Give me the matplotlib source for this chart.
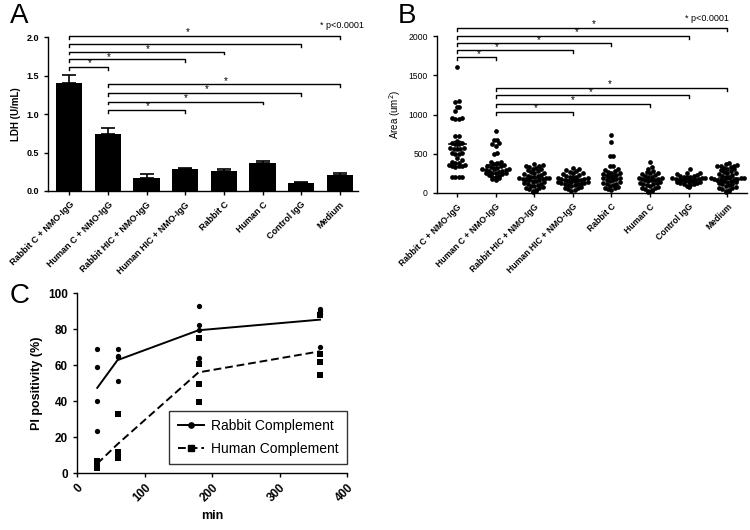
import numpy as np
import matplotlib
matplotlib.use("Agg")
import matplotlib.pyplot as plt

plt.rcParams.update({"font.family": ["Liberation Sans", "DejaVu Sans"],
                     "axes.linewidth": 1.0, "xtick.major.width": 1.0, "ytick.major.width": 1.0,
                     "xtick.major.size": 3, "ytick.major.size": 3})

groups = ["Rabbit C + NMO-IgG", "Human C + NMO-IgG", "Rabbit HIC + NMO-IgG", "Human HIC + NMO-IgG",
          "Rabbit C", "Human C", "Control IgG", "Medium"]

# A: LDH mean / SEM
ldh_mean = [1.40, 0.74, 0.17, 0.28, 0.26, 0.37, 0.10, 0.21]
ldh_sem = [0.11, 0.08, 0.05, 0.02, 0.03, 0.02, 0.02, 0.03]
a_brackets = [(0, 7, 2.01), (0, 6, 1.91), (0, 4, 1.81), (0, 3, 1.71), (0, 1, 1.61),
              (1, 7, 1.39), (1, 6, 1.27), (1, 5, 1.16), (1, 3, 1.05)]
a_stars = [(3.07, 2.06), (2.04, 1.84), (1.03, 1.74), (0.52, 1.66),
           (4.05, 1.43), (3.56, 1.32), (3.02, 1.21), (2.04, 1.10)]

# B: area per cell
area = [
    [1605, 1175, 1165, 1100, 1090, 1040, 950, 950, 945, 945, 726, 726, 660, 640, 635, 630,
     625, 575, 570, 565, 560, 555, 510, 505, 500, 495, 440, 420, 400, 380, 360, 345, 340,
     335, 340, 360, 380, 210, 208, 205, 205],
    [784, 680, 670, 640, 630, 595, 505, 500, 400, 390, 380, 370, 360, 350, 340, 330, 320,
     310, 300, 300, 290, 290, 280, 280, 270, 260, 260, 250, 250, 240, 230, 220, 210, 200,
     190, 180, 170],
    [365, 360, 350, 345, 330, 320, 310, 300, 290, 280, 270, 260, 250, 240, 230, 220, 215,
     210, 200, 195, 190, 185, 180, 175, 170, 165, 160, 150, 145, 140, 130, 120, 110, 100,
     95, 90, 80, 70, 60, 50, 40, 30, 20, 10],
    [320, 300, 290, 280, 270, 260, 250, 240, 230, 220, 210, 200, 200, 190, 185, 180, 175,
     170, 165, 160, 155, 150, 145, 140, 135, 130, 125, 120, 115, 110, 105, 100, 90, 80, 70,
     60, 50, 40, 30],
    [745, 650, 470, 470, 350, 345, 300, 290, 280, 270, 260, 250, 240, 230, 220, 210, 200,
     195, 190, 180, 170, 160, 150, 140, 130, 120, 110, 100, 90, 80, 70, 60, 50, 40],
    [390, 330, 310, 280, 270, 260, 250, 240, 230, 220, 210, 200, 195, 190, 180, 175, 170,
     165, 160, 150, 140, 130, 125, 120, 110, 100, 90, 80, 70, 60, 50, 40, 30, 20, 10],
    [300, 260, 250, 240, 230, 220, 215, 210, 205, 200, 195, 190, 185, 180, 175, 170, 165,
     160, 155, 150, 145, 140, 135, 130, 125, 120, 110, 100, 90, 80],
    [380, 370, 360, 350, 345, 340, 330, 320, 310, 300, 290, 280, 270, 260, 250, 240, 230,
     220, 210, 200, 195, 190, 185, 180, 175, 170, 165, 160, 155, 150, 145, 140, 130, 120,
     110, 100, 90, 80, 70, 60, 50, 40, 30, 20, 10],
]
b_brackets = [(0, 7, 2106), (0, 6, 2004), (0, 4, 1911), (0, 3, 1818), (0, 1, 1729),
              (1, 7, 1343), (1, 6, 1250), (1, 5, 1135), (1, 3, 1030)]
b_stars = [(3.54, 2148), (3.09, 2046), (2.11, 1953), (1.04, 1860), (0.56, 1767),
           (3.96, 1385), (3.47, 1288), (2.99, 1178), (2.03, 1076)]

# C: PI positivity over time
minutes = [30, 60, 180, 360]
rabbit_pts = [[68.7, 59.0, 40.2, 23.3], [68.7, 65.2, 64.5, 51.3],
              [93.0, 82.2, 79.4, 63.7, 61.9], [91.0, 89.8, 88.5, 70.0]]
human_pts = [[6.5, 4.8, 3.0], [32.8, 11.8, 10.0, 8.5],
             [74.8, 60.5, 49.3, 39.6], [88.0, 66.0, 61.8, 54.4]]
rabbit_line = [47.3, 62.7, 79.3, 85.2]
human_line = [5.2, 16.0, 55.9, 67.6]

W, H = 750, 530
fig = plt.figure(figsize=(7.5, 5.3), dpi=100)
axA = fig.add_axes([48 / W, 1 - 191 / H, 310 / W, 154 / H])
axB = fig.add_axes([437 / W, 1 - 193 / H, 310 / W, 157 / H])
axC = fig.add_axes([77 / W, 1 - 473 / H, 270 / W, 180 / H])

def prism(ax):
    for s in ["top", "right"]:
        ax.spines[s].set_visible(False)
    ax.tick_params(direction="out")

def brackets(ax, lst, stars, drop, star_fs):
    for i, j, y in lst:
        ax.plot([i, i, j, j], [y - drop, y, y, y - drop], color="black", lw=1.0, clip_on=False)
    for x, y in stars:
        ax.text(x, y, "*", ha="center", va="center", fontsize=star_fs, clip_on=False)

x = np.arange(len(groups))

# ---- A
prism(axA)
axA.bar(x, ldh_mean, width=0.68, color="black")
axA.errorbar(x, ldh_mean, yerr=[np.zeros(len(x)), ldh_sem], fmt="none", ecolor="black",
             capsize=5, elinewidth=1.2, capthick=1.2)
axA.set_xlim(-0.55, 7.47)
axA.set_ylim(0, 2.0)
axA.set_yticks([0, 0.5, 1.0, 1.5, 2.0])
axA.set_yticklabels(["0.0", "0.5", "1.0", "1.5", "2.0"], fontsize=6.5, fontweight="bold")
axA.set_xticks(x)
axA.set_xticklabels(groups, rotation=45, ha="right", rotation_mode="anchor",
                    fontsize=6.5, fontweight="bold")
axA.set_ylabel("LDH (U/mL)", fontsize=7, fontweight="bold")
brackets(axA, a_brackets, a_stars, 0.035, 7)
axA.text(6.49, 2.15, "* p<0.0001", fontsize=6.5, va="center", clip_on=False)

# ---- B  (prism-like rows: values binned into rows, spread sideways, then mean +/- SEM)
prism(axB)
px_x, px_y = 38.6, 157 / 2000
row_h, spacing = 4.4, 3.3
for gi, vals in enumerate(area):
    vals = np.array(vals, dtype=float)
    rows = np.round(vals * px_y / row_h).astype(int)
    offs = np.zeros(len(vals))
    for r in np.unique(rows):
        idx = np.where(rows == r)[0]
        idx = idx[np.argsort(vals[idx])]
        n = len(idx)
        # lowest values in the middle, alternating outwards
        slots = sorted(range(n), key=lambda k: abs(k - (n - 1) / 2))
        for k, ii in zip(slots, idx):
            offs[ii] = (k - (n - 1) / 2) * spacing
    axB.plot(gi + offs / px_x, vals, "o", color="black", ms=3.4, mew=0, clip_on=False)
    m = vals.mean()
    sem = vals.std(ddof=1) / np.sqrt(len(vals))
    axB.plot([gi - 0.22, gi + 0.22], [m, m], color="black", lw=1.2)
    axB.errorbar([gi], [m], yerr=[[sem], [sem]], fmt="none", ecolor="black", capsize=3,
                 elinewidth=1.0, capthick=1.0)
axB.set_xlim(-0.52, 7.51)
axB.set_ylim(0, 2000)
axB.set_yticks([0, 500, 1000, 1500, 2000])
axB.tick_params(axis="y", labelsize=6.2)
axB.set_xticks(x)
axB.set_xticklabels(groups, rotation=45, ha="right", rotation_mode="anchor",
                    fontsize=6.2, fontweight="bold")
axB.set_ylabel("Area (um$^2$)", fontsize=7)
brackets(axB, b_brackets, b_stars, 40, 7)
axB.text(5.91, 2224, "* p<0.0001", fontsize=6.5, va="center", clip_on=False)

# ---- C
prism(axC)
for t, pts in zip(minutes, rabbit_pts):
    axC.plot([t] * len(pts), pts, "o", color="black", ms=3.8, mew=0, clip_on=False)
for t, pts in zip(minutes, human_pts):
    axC.plot([t] * len(pts), pts, "s", color="black", ms=3.8, mew=0, clip_on=False)
axC.plot(minutes, rabbit_line, "-", color="black", lw=1.4)
axC.plot(minutes, human_line, "--", color="black", lw=1.4, dashes=(4, 2))
h1, = axC.plot([], [], "-o", color="black", lw=1.4, ms=3.8, label="Rabbit Complement")
h2, = axC.plot([], [], "--s", color="black", lw=1.4, ms=3.8, dashes=(4, 2), label="Human Complement")
leg = axC.legend(handles=[h1, h2], loc="lower right", bbox_to_anchor=(1.0, 0.05),
                 borderaxespad=0, fancybox=False, edgecolor="black", fontsize=10,
                 handlelength=1.9, handletextpad=0.5, borderpad=0.6, labelspacing=0.6)
leg.get_frame().set_linewidth(1.0)
axC.set_xlim(0, 400)
axC.set_ylim(0, 100)
axC.set_xticks([0, 100, 200, 300, 400])
axC.set_xticklabels(["0", "100", "200", "300", "400"], rotation=45, ha="right",
                    rotation_mode="anchor", fontsize=8.5, fontweight="bold")
axC.set_yticks([0, 20, 40, 60, 80, 100])
axC.set_yticklabels(["0", "20", "40", "60", "80", "100"], fontsize=8.5, fontweight="bold")
axC.set_xlabel("min", fontsize=9, fontweight="bold")
axC.set_ylabel("PI positivity (%)", fontsize=9, fontweight="bold")

fig.text(10 / W, 1 - 3 / H, "A", fontsize=20, va="top")
fig.text(398 / W, 1 - 3 / H, "B", fontsize=20, va="top")
fig.text(10 / W, 1 - 283 / H, "C", fontsize=20, va="top")

fig.savefig("out.png", dpi=100)
